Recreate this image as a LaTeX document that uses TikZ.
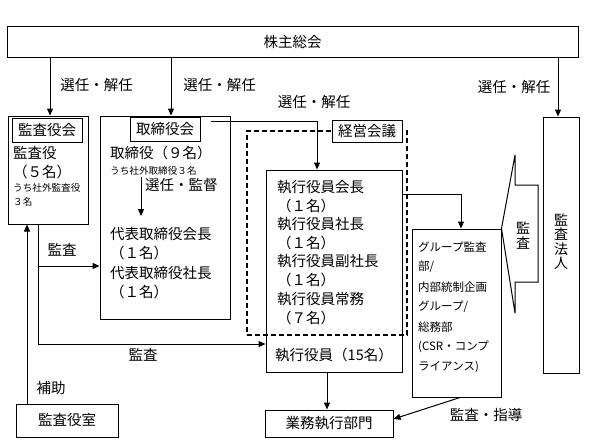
\documentclass[tikz,border=0pt]{standalone}
\usepackage{fontspec}
\setmainfont{Noto Sans CJK JP}
\usetikzlibrary{arrows.meta}
\newcommand\fmain{\fontsize{14.5}{17}\selectfont}
\newcommand\fsmall{\fontsize{9.6}{11}\selectfont}
\newcommand\fgrp{\fontsize{11.5}{13}\selectfont}
\newcommand\fvert{\fontsize{14}{14.5}\selectfont}
\begin{document}
\begin{tikzpicture}[x=1pt,y=-1pt,
  bx/.style={draw, line width=1pt, inner sep=0pt},
  tx/.style={inner sep=0pt, font=\fmain},
  gt/.style={inner sep=0pt, anchor=west, font=\fgrp},
  arr/.style={line width=1pt, -{Triangle[length=7pt,width=6pt]}},
  ln/.style={line width=1pt},
  dsh/.style={draw, line width=1.3pt, dash pattern=on 5pt off 3pt, inner sep=0pt}]
\useasboundingbox (0,0) rectangle (600,444);
% shareholders
\node[bx, minimum width=571pt, minimum height=31pt, font=\fmain] (sh) at (292.5,42.5) {株主総会};
% audit board
\node[bx, minimum width=80pt, minimum height=108pt] (kk) at (48,170) {};
\node[bx, minimum width=70pt, minimum height=24pt, font=\fmain] (kkl) at (47,130) {監査役会};
\node[tx, anchor=west] (kk1) at (13,153) {監査役};
\node[tx, anchor=west] (kk2) at (13,172) {（５名）};
\node[tx, anchor=west, font=\fsmall] (kk3) at (13,188) {うち社外監査役};
\node[tx, anchor=west, font=\fsmall] (kk4) at (13,202) {３名};
% board of directors
\node[bx, minimum width=130pt, minimum height=203pt] (tk) at (165,217.5) {};
\node[bx, minimum width=70pt, minimum height=24pt, font=\fmain] (tkl) at (165,129) {取締役会};
\node[tx, anchor=west] (tk1) at (110,153) {取締役（９名）};
\node[tx, anchor=west, font=\fsmall] (tk2) at (110,171) {うち社外取締役３名};
\coordinate (tka) at (141,177);
\coordinate (tkb) at (141,216);
\draw[arr] (tka) -- (tkb);
\node[tx, anchor=west] (tkm) at (145,185) {選任・監督};
\node[tx, anchor=west] (tk3) at (110,234) {代表取締役会長};
\node[tx, anchor=west] (tk4) at (110,253) {（１名）};
\node[tx, anchor=west] (tk5) at (110,273) {代表取締役社長};
\node[tx, anchor=west] (tk6) at (110,292) {（１名）};
% management meeting
\node[dsh, minimum width=160pt, minimum height=204pt] (ke) at (327,233) {};
\node[bx, fill=white, minimum width=70pt, minimum height=22pt, font=\fmain] (kel) at (367,131) {経営会議};
% executive officers
\node[bx, minimum width=136pt, minimum height=202pt] (sx) at (334,271) {};
\node[tx, anchor=west] (sx1) at (277,187) {執行役員会長};
\node[tx, anchor=west] (sx2) at (277,205.5) {（１名）};
\node[tx, anchor=west] (sx3) at (277,224) {執行役員社長};
\node[tx, anchor=west] (sx4) at (277,243) {（１名）};
\node[tx, anchor=west] (sx5) at (277,261.5) {執行役員副社長};
\node[tx, anchor=west] (sx6) at (277,280) {（１名）};
\node[tx, anchor=west] (sx7) at (277,299) {執行役員常務};
\node[tx, anchor=west] (sx8) at (277,317.5) {（７名）};
\node[tx] (sx15) at (334,355) {執行役員（15名）};
% business divisions
\node[bx, minimum width=128pt, minimum height=27pt, font=\fmain] (gy) at (329,423.5) {業務執行部門};
% audit office
\node[bx, minimum width=102pt, minimum height=33pt, font=\fmain] (ks) at (67,420.5) {監査役室};
% group audit
\node[bx, minimum width=89pt, minimum height=168pt] (gr) at (456.5,313) {};
\node[gt] (gr1) at (418,247) {グループ監査};
\node[gt] (gr2) at (418,267) {部/};
\node[gt] (gr3) at (418,287) {内部統制企画};
\node[gt] (gr4) at (418,307) {グループ/};
\node[gt] (gr5) at (418,327) {総務部};
\node[gt] (gr6) at (418,347) {(CSR・コンプ};
\node[gt] (gr7) at (418,367) {ライアンス)};
% audit firm
\node[bx, minimum width=36pt, minimum height=256pt] (kh) at (561,245) {};
\node[tx, align=center, font=\fvert] (khx) at (561,241.5) {監\\査\\法\\人};
% callout
\draw[ln, line join=miter] (538,185) -- (515,185) -- (515,155) -- (gr.north east) -- (515,313) -- (515,282) -- (538,282) -- cycle;
\node[tx, align=center, font=\fvert] (clx) at (523,235.5) {監\\査};
% connectors
\coordinate (c1) at (50,0);
\coordinate (c2) at (171,0);
\coordinate (c3) at (558,0);
\draw[arr] (c1 |- sh.south) -- (c1 |- kk.north);
\draw[arr] (c2 |- sh.south) -- (c2 |- tk.north);
\draw[arr] (c3 |- sh.south) -- (c3 |- kh.north);
\coordinate (c4) at (211,121);
\coordinate (c5) at (317,121);
\draw[arr] (c4) -- (c5) -- (c5 |- sx.north);
\coordinate (c6) at (461,194);
\draw[arr] (c6 -| sx.east) -- (c6) -- (c6 |- gr.north);
\coordinate (c7) at (27,0);
\draw[arr] (c7 |- ks.north) -- (c7 |- kk.south);
\coordinate (c8) at (38,344);
\draw[arr] (c8 |- kk.south) -- (c8) -- (c8 -| sx.west);
\coordinate (c9) at (38,266);
\draw[arr] (c9) -- (c9 -| tk.west);
\coordinate (c10) at (327,0);
\draw[arr] (c10 |- sx.south) -- (c10 |- gy.north);
\coordinate (c11) at (460,0);
\coordinate (c12) at (0,419);
\draw[arr] (c11 |- gr.south) -- (c12 -| gy.east);
% labels
\node[tx] (l1) at (96.5,85) {選任・解任};
\node[tx] (l2) at (219.5,85) {選任・解任};
\node[tx] (l3) at (314,102) {選任・解任};
\node[tx] (l4) at (514,87) {選任・解任};
\node[tx] (l5) at (62,250) {監査};
\node[tx] (l6) at (143,355) {監査};
\node[tx] (l7) at (51,388) {補助};
\node[tx] (l8) at (486,415) {監査・指導};
\end{tikzpicture}
\end{document}
